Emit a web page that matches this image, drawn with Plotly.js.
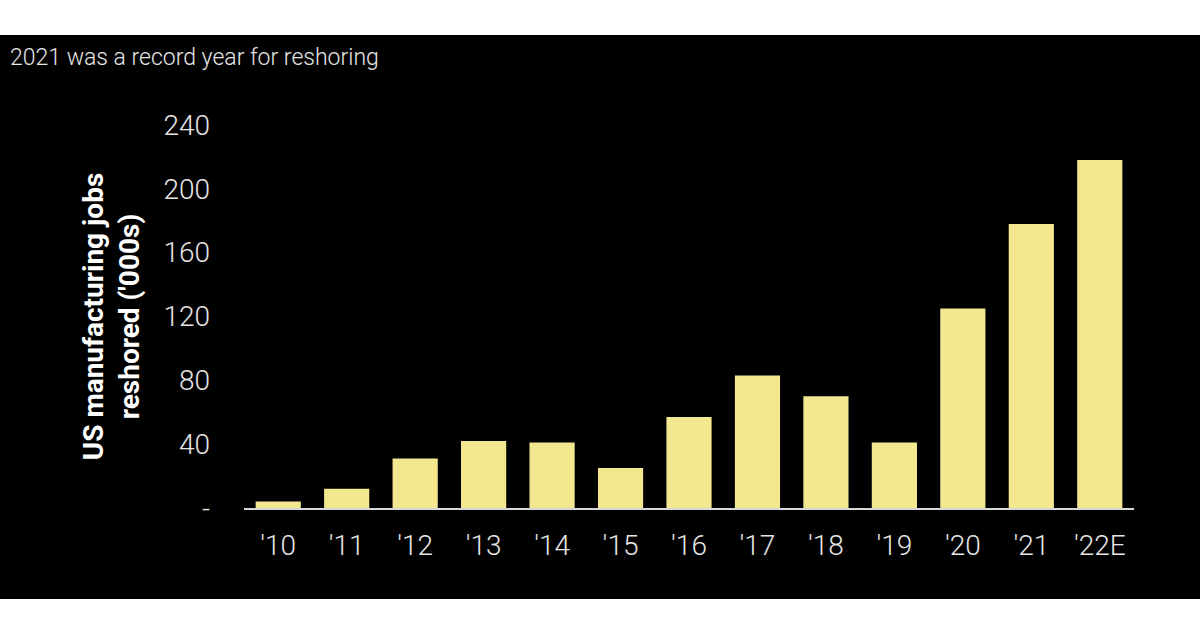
<!DOCTYPE html>
<html>
<head>
<meta charset="utf-8">
<script src="https://cdn.plot.ly/plotly-3.0.1.min.js"></script>
<style>
html, body { margin: 0; padding: 0; background: #ffffff; width: 1200px; height: 635px; overflow: hidden; }
#chart { position: absolute; left: 0; top: 35px; width: 1200px; height: 564px; }
</style>
</head>
<body>
<div id="chart"></div>
<script>
const categories = ["'10", "'11", "'12", "'13", "'14", "'15", "'16", "'17", "'18", "'19", "'20", "'21", "'22E"];
const jobsReshored = [4, 12, 31, 42, 41, 25, 57, 83, 70, 41, 125, 178, 218];
const yTickVals = [0, 40, 80, 120, 160, 200, 240];
const yTickText = ["-", "40", "80", "120", "160", "200", "240"];

const trace = {
  type: 'bar',
  x: categories,
  y: jobsReshored,
  marker: { color: '#f3e890', line: { width: 0 } },
  hoverinfo: 'x+y'
};

const layout = {
  width: 1200,
  height: 564,
  paper_bgcolor: '#000000',
  plot_bgcolor: '#000000',
  margin: { l: 244, r: 66, t: 89.5, b: 90.5 },
  bargap: 0.34,
  showlegend: false,
  title: {
    text: '2021 was a record year for reshoring',
    xref: 'container', yref: 'container',
    x: 10 / 1200, xanchor: 'left',
    y: 1 - 22 / 564, yanchor: 'middle',
    font: { family: 'Roboto', size: 23, color: '#e6e6e6', weight: 300 }
  },
  xaxis: {
    type: 'category',
    range: [-0.5, 12.5],
    showline: true, linecolor: '#d8d8d8', linewidth: 2,
    showgrid: false, zeroline: false,
    ticks: '',
    ticklabelstandoff: 11,
    tickfont: { family: 'Roboto', size: 28, color: '#e6e6e6', weight: 300 },
    fixedrange: true
  },
  yaxis: {
    range: [0, 240],
    tickmode: 'array', tickvals: yTickVals, ticktext: yTickText,
    showline: false, showgrid: false, zeroline: false,
    ticks: '',
    ticklabelstandoff: 33,
    tickfont: { family: 'Roboto', size: 28, color: '#e6e6e6', weight: 300 },
    title: {
      text: "US manufacturing jobs<br>reshored ('000s)",
      font: { family: 'Roboto', size: 28, color: '#ffffff', weight: 700 },
      standoff: 15
    },
    automargin: false,
    fixedrange: true
  }
};

Plotly.newPlot('chart', [trace], layout, { displayModeBar: false, staticPlot: true });
</script>
</body>
</html>
